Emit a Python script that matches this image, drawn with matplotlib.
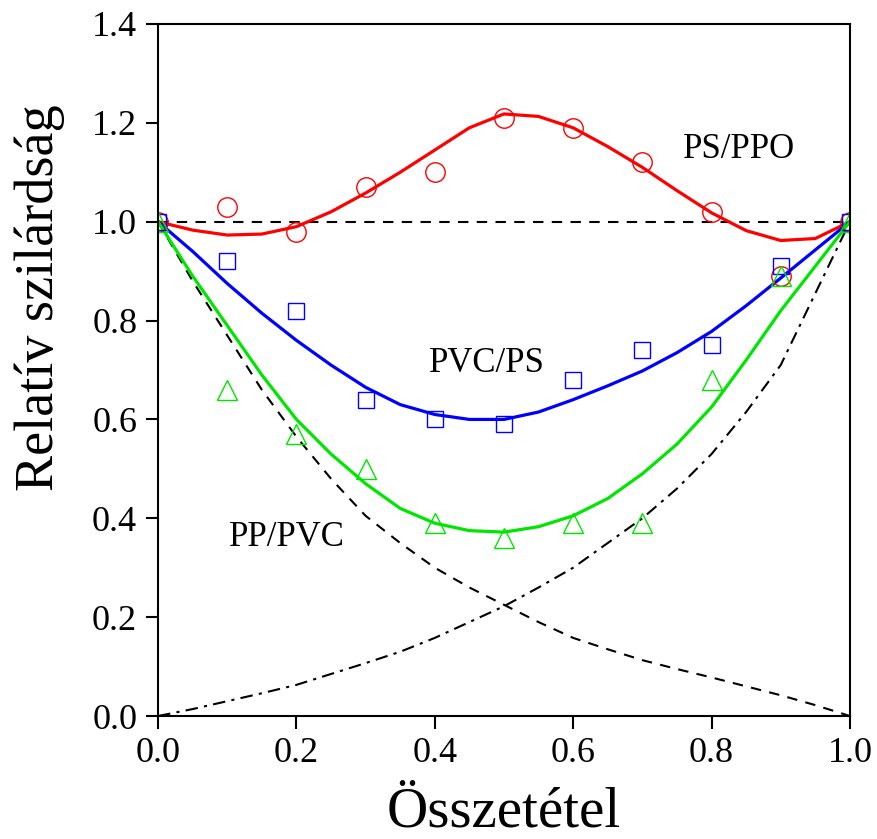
import matplotlib.pyplot as plt
import numpy as np

# measured points
x_pts = [0.0, 0.1, 0.2, 0.3, 0.4, 0.5, 0.6, 0.7, 0.8, 0.9, 1.0]
ps_ppo = [1.00, 1.03, 0.98, 1.07, 1.10, 1.21, 1.19, 1.12, 1.02, 0.89, 1.00]
pvc_ps = [1.00, 0.92, 0.82, 0.64, 0.60, 0.59, 0.68, 0.74, 0.75, 0.91, 1.00]
pp_pvc = [1.00, 0.66, 0.57, 0.50, 0.39, 0.36, 0.39, 0.39, 0.68, 0.89, 1.00]

x_fit = [0.0, 0.05, 0.1, 0.15, 0.2, 0.25, 0.3, 0.35, 0.4, 0.45, 0.5,
         0.55, 0.6, 0.65, 0.7, 0.75, 0.8, 0.85, 0.9, 0.95, 1.0]
fit_ps_ppo = [1.00, 0.983, 0.973, 0.975, 0.99, 1.02, 1.058, 1.10, 1.145, 1.19, 1.218,
              1.213, 1.19, 1.152, 1.11, 1.063, 1.018, 0.982, 0.962, 0.966, 1.00]
fit_pvc_ps = [1.00, 0.94, 0.875, 0.815, 0.76, 0.71, 0.665, 0.63, 0.61, 0.60, 0.60,
              0.615, 0.64, 0.668, 0.698, 0.735, 0.778, 0.83, 0.886, 0.943, 1.00]
fit_pp_pvc = [1.00, 0.89, 0.79, 0.69, 0.60, 0.53, 0.47, 0.42, 0.39, 0.375, 0.372,
              0.383, 0.405, 0.44, 0.49, 0.55, 0.625, 0.72, 0.82, 0.91, 1.00]
ref_down = [1.00, 0.88, 0.77, 0.66, 0.565, 0.48, 0.405, 0.35, 0.30, 0.26, 0.225,
            0.19, 0.158, 0.135, 0.113, 0.095, 0.078, 0.06, 0.042, 0.022, 0.0]
ref_up = [0.0, 0.014, 0.03, 0.046, 0.063, 0.085, 0.107, 0.13, 0.158, 0.19, 0.222,
          0.26, 0.30, 0.35, 0.40, 0.46, 0.53, 0.615, 0.71, 0.855, 1.00]

plt.rcParams['font.family'] = ['Liberation Serif', 'DejaVu Serif']

fig = plt.figure(figsize=(8.78, 8.39), dpi=100)
ax = fig.add_axes([0.18, 0.1466, 0.788, 0.8248])

ax.plot([0, 1], [1, 1], '--', color='black', lw=1.5, dashes=(5, 4))
ax.plot(x_fit, ref_down, '--', color='black', lw=1.5, dashes=(5, 4))
ax.plot(x_fit, ref_up, '-.', color='black', lw=1.5, dashes=(6, 3, 1.5, 3))

ax.plot(x_fit, fit_ps_ppo, color='#ff0000', lw=2.3)
ax.plot(x_fit, fit_pvc_ps, color='#0000ff', lw=2.3)
ax.plot(x_fit, fit_pp_pvc, color='#00e600', lw=2.3)

ax.plot(x_pts, ps_ppo, 'o', mfc='none', mec='#ff0000', ms=14, mew=1.0)
ax.plot(x_pts, pvc_ps, 's', mfc='none', mec='#0000ff', ms=12, mew=1.0)
ax.plot(x_pts, pp_pvc, '^', mfc='none', mec='#00e600', ms=15, mew=1.0)

ax.text(0.84, 1.146, 'PS/PPO', fontsize=25, ha='center', va='center')
ax.text(0.475, 0.714, 'PVC/PS', fontsize=25, ha='center', va='center')
ax.text(0.186, 0.362, 'PP/PVC', fontsize=25, ha='center', va='center')

ax.set_xlim(0, 1)
ax.set_ylim(0, 1.4)
ax.set_xticks(np.arange(0, 1.01, 0.2))
ax.set_yticks(np.arange(0, 1.41, 0.2))
ax.xaxis.set_major_formatter(plt.FormatStrFormatter('%.1f'))
ax.yaxis.set_major_formatter(plt.FormatStrFormatter('%.1f'))
ax.tick_params(direction='out', length=9, width=1.5, labelsize=26, pad=6)
for s in ax.spines.values():
    s.set_linewidth(1.5)

ax.set_xlabel('Összetétel', fontsize=41, labelpad=12)
ax.set_ylabel('Relatív szilárdság', fontsize=39)
ax.yaxis.set_label_coords(-0.135, 0.605)

fig.savefig('out.png', dpi=100)
